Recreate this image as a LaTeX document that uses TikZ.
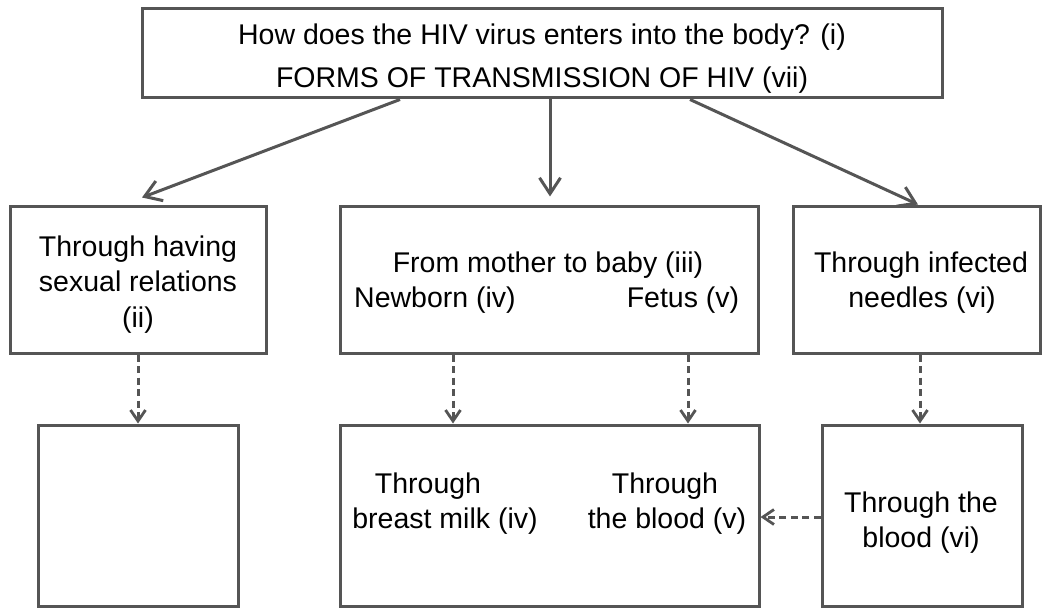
\documentclass[tikz,border=0pt]{standalone}
\usepackage{fontspec}
\setmainfont{Liberation Sans}
\usetikzlibrary{arrows.meta}
\definecolor{edgegray}{HTML}{555555}
\tikzset{
  box/.style={draw=edgegray, line width=3pt, rectangle, inner sep=0pt, fill=white},
  lbl/.style={anchor=base, inner sep=0pt, text=black, font=\fontsize{28.5}{35}\selectfont},
  arr/.style={draw=edgegray, line width=3pt, -{Straight Barb[length=16pt,width=21pt,line width=3pt]}},
  darr/.style={draw=edgegray, line width=3pt, dash pattern=on 7pt off 4.5pt, -{Straight Barb[length=11pt,width=15pt,line width=2.8pt]}}
}
\begin{document}
\begin{tikzpicture}[x=1pt,y=-1pt]
\useasboundingbox (0,0) rectangle (1043,609);
% boxes
\node[box, minimum width=800pt, minimum height=89pt] (top) at (542,53.5) {};
\node[box, minimum width=256pt, minimum height=146pt] (left) at (138,280) {};
\node[box, minimum width=418pt, minimum height=146pt] (mid) at (549,280) {};
\node[box, minimum width=247pt, minimum height=146pt] (right) at (916.5,280) {};
\node[box, minimum width=200pt, minimum height=181pt] (bleft) at (138,515.5) {};
\node[box, minimum width=419pt, minimum height=181pt] (bmid) at (549.5,515.5) {};
\node[box, minimum width=200pt, minimum height=181pt] (bright) at (922,515.5) {};
% texts
\node[lbl] (t1) at (542,45) {How does the HIV virus enters into the body? (i)};
\node[lbl] (t2) at (542,88) {FORMS OF TRANSMISSION OF HIV (vii)};
\node[lbl] (l1) at (138,257) {Through having};
\node[lbl] (l2) at (138,292) {sexual relations};
\node[lbl] (l3) at (138,327) {(ii)};
\node[lbl] (m1) at (548,273) {From mother to baby (iii)};
\node[lbl] (m2) at (435,308) {Newborn (iv)};
\node[lbl] (m3) at (683,308) {Fetus (v)};
\node[lbl] (r1) at (921,273) {Through infected};
\node[lbl] (r2) at (922,308) {needles (vi)};
\node[lbl] (b1) at (428,493) {Through};
\node[lbl] (b2) at (445,528) {breast milk (iv)};
\node[lbl] (b3) at (665,493) {Through};
\node[lbl] (b4) at (667,528) {the blood (v)};
\node[lbl] (c1) at (921,512) {Through the};
\node[lbl] (c2) at (921,547) {blood (vi)};
% solid arrows
\draw[arr] ([xshift=-142pt]top.south) -- ([xshift=4pt,yshift=8pt]left.north);
\draw[arr] ([xshift=8pt]top.south) -- ([xshift=1pt,yshift=9pt]mid.north);
\draw[arr] ([xshift=148pt]top.south) -- ([xshift=1.5pt,yshift=1pt]right.north);
% dashed arrows
\draw[darr] (left.south) -- (bleft.north);
\draw[darr] ([xshift=-96pt]mid.south) -- ([xshift=-96.5pt]bmid.north);
\draw[darr] ([xshift=139pt]mid.south) -- ([xshift=138.5pt]bmid.north);
\draw[darr] ([xshift=3.5pt]right.south) -- ([xshift=-2pt]bright.north);
\draw[darr] ([yshift=-1.5pt]bright.west) -- ([yshift=-1.5pt]bmid.east);
\end{tikzpicture}
\end{document}
